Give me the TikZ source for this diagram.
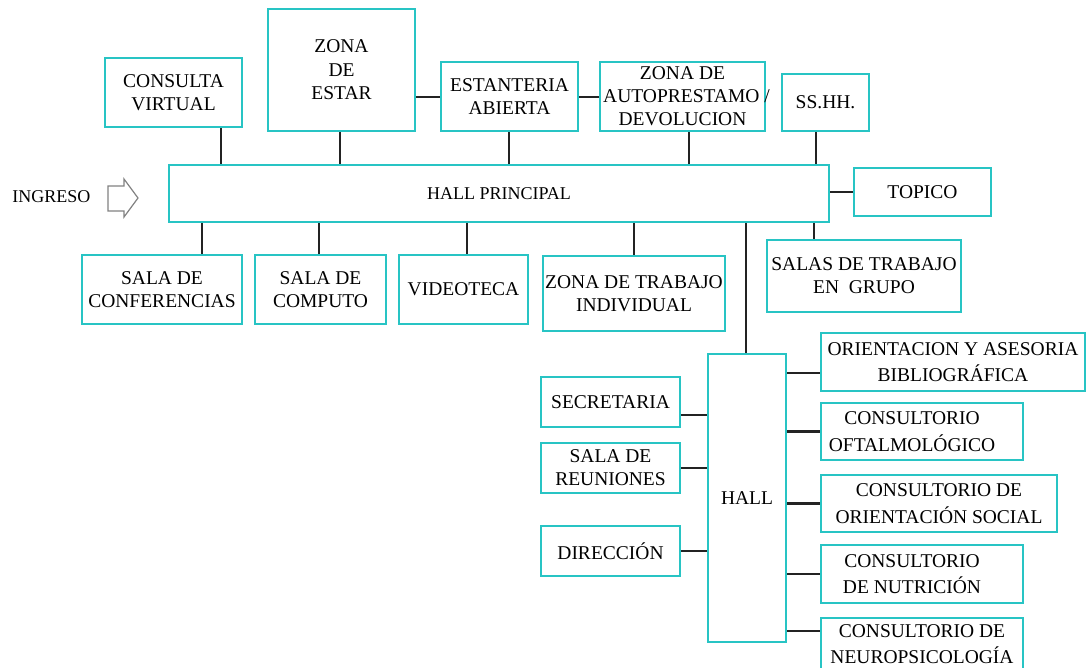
\documentclass[tikz,border=0pt]{standalone}
\usepackage{fontspec}
\setmainfont{Liberation Serif}
\definecolor{boxc}{RGB}{40,196,196}
\definecolor{linec}{RGB}{35,35,35}
\definecolor{arrc}{RGB}{130,130,130}
\tikzset{
  boxst/.style={draw=boxc, line width=2pt, inner sep=0pt, align=center,
    font=\fontsize{19.5}{23}\selectfont, text=black},
  rcol/.style={font=\fontsize{19.5}{26.5}\selectfont},
  conn/.style={draw=linec, line width=2.2pt},
}
\newcommand\mybox[7][]{%
  \node[boxst,minimum width={(#5-#3)*1pt},minimum height={(#6-#4)*1pt},#1]
    (#2) at ({(#3+#5)/2},{(#4+#6)/2}) {#7};}
\begin{document}
\begin{tikzpicture}[x=1pt,y=-1pt]
\useasboundingbox (0,0) rectangle (1086,667);
\clip (0,0) rectangle (1086,667);
\fill[white] (0,0) rectangle (1086,667);
% top row
\mybox{cv}{105}{58}{242}{127}{CONSULTA\\VIRTUAL}
\mybox[font=\fontsize{19.5}{23.5}\selectfont]{ze}{268}{9}{415}{131}{ZONA\\DE\\ESTAR}
\mybox{ea}{441}{62}{578}{131}{ESTANTERIA\\ABIERTA}
\mybox{ap}{600}{62}{765}{131}{ZONA DE\\\makebox[0pt]{\hspace*{8pt}AUTOPRESTAMO /}\\DEVOLUCION}
\mybox{ss}{782}{74}{869}{131}{SS.HH.}
% hall principal
\mybox[font=\fontsize{18}{21}\selectfont]{hp}{169}{165}{829}{222}{HALL PRINCIPAL}
\mybox{tp}{854}{168}{991}{216}{TOPICO}
\node[font=\fontsize{18}{21}\selectfont, inner sep=0pt] (ing) at (51.5,197) {INGRESO};
\draw[arrc, line width=1.2pt, line join=miter]
  (108,186) -- (124,186) -- (124,179) -- (138,198) -- (124,217) -- (124,211) -- (108,211) -- cycle;
% bottom row
\mybox{sc}{82}{255}{242}{324}{SALA DE\\CONFERENCIAS}
\mybox{sp}{255}{255}{386}{324}{SALA DE\\COMPUTO}
\mybox{vt}{399}{255}{528}{324}{VIDEOTECA}
\mybox{zt}{543}{256}{725}{331}{ZONA DE TRABAJO\\INDIVIDUAL}
\mybox{sg}{767}{240}{961}{312}{SALAS DE TRABAJO\\EN\ \ GRUPO}
% hall
\mybox{hl}{708}{354}{786}{642}{HALL}
\mybox{se}{541}{377}{680}{427}{SECRETARIA}
\mybox{sr}{541}{443}{680}{493}{SALA DE\\REUNIONES}
\mybox{di}{541}{526}{680}{576}{DIRECCIÓN}
\mybox[rcol]{ob}{821}{333}{1085}{391}{ORIENTACION Y ASESORIA\\BIBLIOGRÁFICA}
\mybox[rcol]{of}{821}{403}{1023}{460}{CONSULTORIO\hspace*{20pt}\\OFTALMOLÓGICO\hspace*{20pt}}
\mybox[rcol]{os}{821}{475}{1057}{532}{CONSULTORIO DE\\ORIENTACIÓN SOCIAL}
\mybox[rcol]{nu}{821}{545}{1023}{603}{CONSULTORIO\hspace*{20pt}\\DE NUTRICIÓN\hspace*{20pt}}
\mybox[rcol,yshift=-1pt]{np}{821}{617}{1023}{669}{CONSULTORIO DE\\NEUROPSICOLOGÍA}
% guide coordinates
\coordinate (t1) at (221,0);
\coordinate (t2) at (340,0);
\coordinate (t3) at (509,0);
\coordinate (t4) at (689,0);
\coordinate (t5) at (816,0);
\coordinate (b1) at (202,0);
\coordinate (b2) at (319,0);
\coordinate (b3) at (467,0);
\coordinate (b4) at (634,0);
\coordinate (b5) at (814,0);
\coordinate (b6) at (746,0);
\coordinate (h1) at (0,97);
\coordinate (h2) at (0,415);
\coordinate (h3) at (0,373);
\coordinate (h4) at (0,631);
% connectors
\draw[conn] (cv.south -| t1) -- (hp.north -| t1);
\draw[conn] (ze.south -| t2) -- (hp.north -| t2);
\draw[conn] (ea.south -| t3) -- (hp.north -| t3);
\draw[conn] (ap.south -| t4) -- (hp.north -| t4);
\draw[conn] (ss.south -| t5) -- (hp.north -| t5);
\draw[conn] (ze.east |- h1) -- (ea.west |- h1);
\draw[conn] (ea.east |- h1) -- (ap.west |- h1);
\draw[conn] (hp.east |- tp.west) -- (tp.west);
\draw[conn] (hp.south -| b1) -- (sc.north -| b1);
\draw[conn] (hp.south -| b2) -- (sp.north -| b2);
\draw[conn] (hp.south -| b3) -- (vt.north -| b3);
\draw[conn] (hp.south -| b4) -- (zt.north -| b4);
\draw[conn] (hp.south -| b5) -- (sg.north -| b5);
\draw[conn] (hp.south -| b6) -- (hl.north -| b6);
\draw[conn] (se.east |- h2) -- (hl.west |- h2);
\draw[conn] (sr.east) -- (hl.west |- sr.east);
\draw[conn] (di.east) -- (hl.west |- di.east);
\draw[conn] (hl.east |- h3) -- (ob.west |- h3);
\draw[conn] (hl.east |- of.west) -- (of.west);
\draw[conn] (hl.east |- os.west) -- (os.west);
\draw[conn] (hl.east |- nu.west) -- (nu.west);
\draw[conn] (hl.east |- h4) -- (np.west |- h4);
\end{tikzpicture}
\end{document}
